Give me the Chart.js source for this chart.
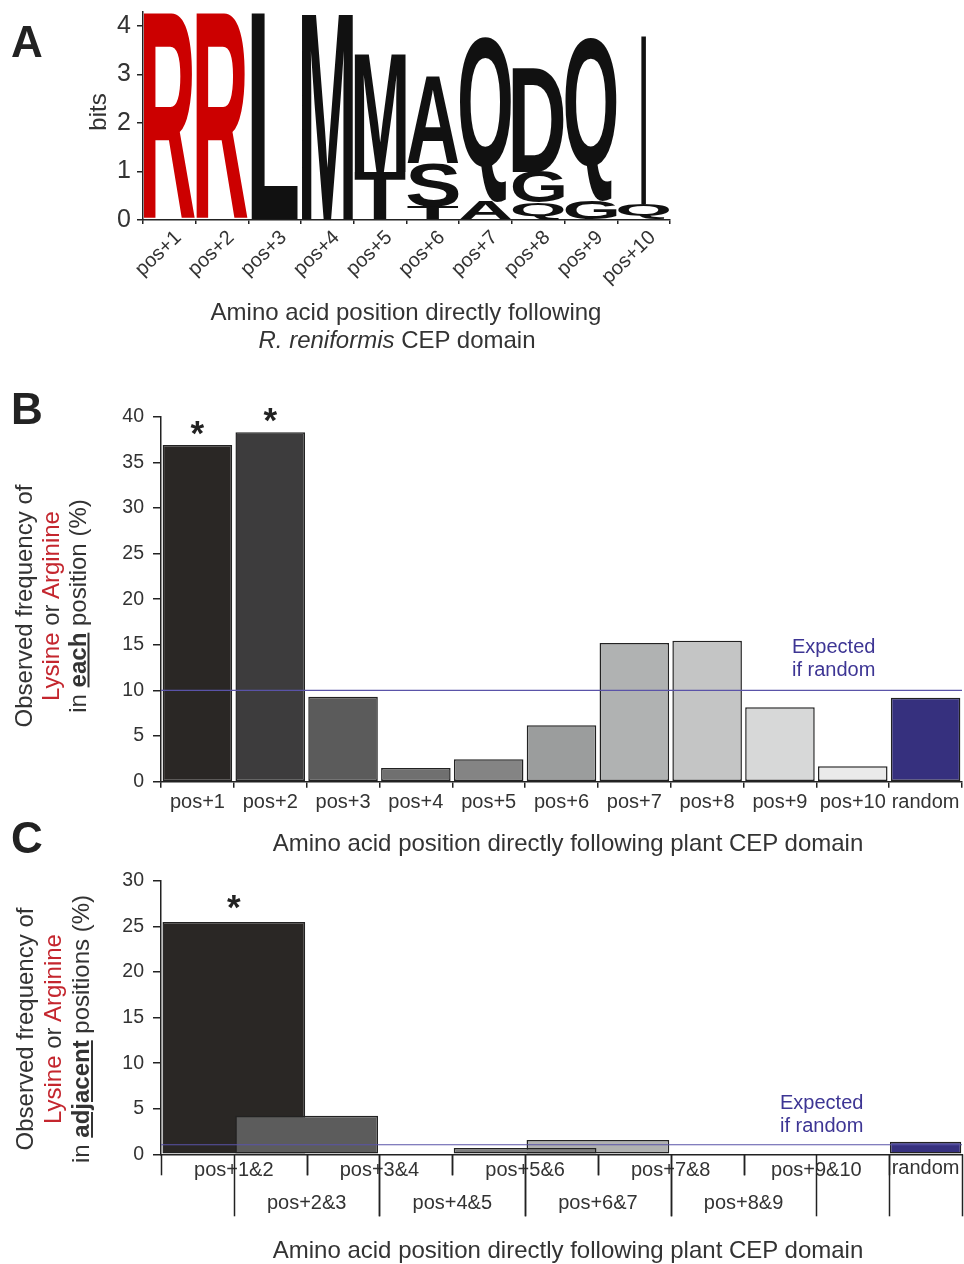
<!DOCTYPE html>
<html><head><meta charset="utf-8">
<script src="https://cdn.jsdelivr.net/npm/chart.js@4"></script>
<style>
body{margin:0;background:#fff;}
#wrap{position:relative;width:964px;height:1264px;overflow:hidden;font-family:"Liberation Sans",Arial,sans-serif;color:#333;background:#fff;}
canvas{position:absolute;left:0;}
.t{position:absolute;white-space:nowrap;z-index:2;}
.ctr{transform:translate(-50%,-50%);line-height:1;}
.panel{font-weight:bold;font-size:44px;color:#222;}
.red{color:#c4262e;}
.rot{transform:translate(-50%,-50%) rotate(-90deg);text-align:center;font-size:24px;line-height:27px;}
.exp{color:#3d3594;font-size:20px;line-height:23px;}
.ttl{font-size:24px;}
</style></head>
<body><div id="wrap">
<canvas id="ca" width="964" height="300" style="top:0"></canvas>
<canvas id="cb" width="964" height="440" style="top:380px"></canvas>
<canvas id="cc" width="964" height="424" style="top:840px"></canvas>

<div class="t ctr panel" style="left:27px;top:42px">A</div>
<div class="t ctr panel" style="left:27px;top:409px">B</div>
<div class="t ctr panel" style="left:27px;top:838px">C</div>

<div class="t ctr" style="left:98px;top:112px;font-size:24px;transform:translate(-50%,-50%) rotate(-90deg)">bits</div>
<div class="t ctr ttl" style="left:406px;top:312px">Amino acid position directly following</div>
<div class="t ctr ttl" style="left:397px;top:340px"><i>R. reniformis</i> CEP domain</div>

<div class="t rot" style="left:50px;top:606px">Observed frequency of<br><span class="red">Lysine</span> or <span class="red">Arginine</span><br>in <b><u>each</u></b> position (%)</div>
<div class="t exp" style="left:792px;top:635px">Expected<br>if random</div>
<div class="t ctr ttl" style="left:568px;top:843px">Amino acid position directly following plant CEP domain</div>

<div class="t rot" style="left:53px;top:1029px;line-height:28px">Observed frequency of<br><span class="red">Lysine</span> or <span class="red">Arginine</span><br>in <b><u>adjacent</u></b> positions (%)</div>
<div class="t exp" style="left:780px;top:1091px">Expected<br>if random</div>
<div class="t ctr ttl" style="left:568px;top:1250px">Amino acid position directly following plant CEP domain</div>
</div>
<script>
// ---------- data ----------
// Panel A: sequence logo (bits per letter, stacked bottom -> top)
const logoPositions = ['pos+1','pos+2','pos+3','pos+4','pos+5','pos+6','pos+7','pos+8','pos+9','pos+10'];
const logoLetters = [['R'],['R'],['L'],['M'],['T','M'],['T','S','A'],['A','Q'],['Q','G','D'],['G','Q'],['Q','I']];
const logoBits = [[4.27],[4.27],[4.27],[4.27],[1.0,2.44],[0.27,0.9,1.82],[0.38,3.41],[0.36,0.64,2.13],[0.4,3.39],[0.33,3.48]];
const logoYTicks = [0,1,2,3,4];
const logoMax = 4.3;

// Panel B: frequency in each position (%)
const bLabels = ['pos+1','pos+2','pos+3','pos+4','pos+5','pos+6','pos+7','pos+8','pos+9','pos+10','random'];
const bValues = [36.9,38.3,9.3,1.5,2.45,6.2,15.2,15.45,8.15,1.7,9.2];
const bSignificant = [true,true,false,false,false,false,false,false,false,false,false];
const bExpected = 10;
const bMax = 40;

// Panel C: frequency in adjacent positions (%)
const cLabels = ['pos+1&2','pos+2&3','pos+3&4','pos+4&5','pos+5&6','pos+6&7','pos+7&8','pos+8&9','pos+9&10'];
const cValues = [25.5,4.24,0,0,0.7,1.57,0,0,0];
const cSignificant = [true,false,false,false,false,false,false,false,false];
const cRandomLabel = 'random';
const cRandomValue = 1.38;
const cExpected = 1.05;
const cMax = 30;

// ---------- styles ----------
const FONT = '"Liberation Sans", Arial, sans-serif';
Chart.defaults.font.family = FONT;
Chart.defaults.color = '#333';
const AX = '#222';
const bColors = ['#2a2725','#3d3c3d','#5b5b5b','#707070','#848484','#9b9d9d','#b0b2b2','#c4c5c5','#d7d8d8','#eaeaea','#36307e'];
const cColors = ['#2a2725','#5c5c5c','#6a6a6a','#747474','#7c7c7c','#b0b1b1','#c4c5c5','#d7d8d8','#eaeaea'];
const cRandomColor = '#36307e';
const letterColor = {R:'#cc0000'};
const letterWidth = {I:0.09, L:0.88};

function fixW(w){return s=>{s.width=w;s.paddingTop=0;s.paddingBottom=0;s.paddingLeft=0;s.paddingRight=0;};}
function fixH(h){return s=>{s.height=h;s.paddingTop=0;s.paddingBottom=0;s.paddingLeft=0;s.paddingRight=0;};}
function drawStar(ctx,x,cy){
  ctx.save();
  ctx.font = 'bold 35px ' + FONT;
  ctx.fillStyle = '#222';
  ctx.textAlign = 'center';
  ctx.textBaseline = 'alphabetic';
  const m = ctx.measureText('*');
  ctx.fillText('*', x, cy + (m.actualBoundingBoxAscent - m.actualBoundingBoxDescent)/2);
  ctx.restore();
}
function expectedLine(chart, v){
  const ctx = chart.ctx, a = chart.chartArea, y = chart.scales.y.getPixelForValue(v);
  ctx.save(); ctx.strokeStyle = '#5a53a8'; ctx.lineWidth = 1.2;
  ctx.beginPath(); ctx.moveTo(a.left, y); ctx.lineTo(a.right, y); ctx.stroke(); ctx.restore();
}

// ---------- Panel A ----------
const nLayers = Math.max(...logoBits.map(b=>b.length));
const logoDatasets = [];
for (let k=0;k<nLayers;k++){
  logoDatasets.push({data: logoBits.map(b => b[k] ?? null), backgroundColor:'rgba(0,0,0,0)', borderWidth:0,
    barPercentage:1, categoryPercentage:1});
}
const logoPlugin = {id:'logo', afterDatasetsDraw(chart){
  const ctx = chart.ctx;
  chart.data.datasets.forEach((ds,d)=>{
    chart.getDatasetMeta(d).data.forEach((el,i)=>{
      const v = ds.data[i]; if (!v) return;
      const letter = logoLetters[i][d];
      const p = el.getProps(['x','y','base','width'], true);
      const top = Math.min(p.y,p.base), h = Math.abs(p.base-p.y);
      const w = p.width * (letterWidth[letter] ?? 0.97);
      ctx.save();
      ctx.font = 'bold 200px ' + FONT;
      ctx.textAlign='left'; ctx.textBaseline='alphabetic';
      const m = ctx.measureText(letter);
      const bw = m.actualBoundingBoxLeft + m.actualBoundingBoxRight;
      const bh = m.actualBoundingBoxAscent + m.actualBoundingBoxDescent;
      ctx.translate(p.x - w/2, top);
      ctx.scale(w/bw, h/bh);
      ctx.fillStyle = letterColor[letter] || '#111';
      ctx.fillText(letter, m.actualBoundingBoxLeft, m.actualBoundingBoxAscent);
      ctx.restore();
    });
  });
}};
new Chart(document.getElementById('ca'), {
  type:'bar',
  data:{labels:logoPositions, datasets:logoDatasets},
  options:{
    responsive:false, animation:false,
    layout:{padding:{top:11.5,right:294,bottom:0,left:0}},
    plugins:{legend:{display:false},tooltip:{enabled:false}},
    scales:{
      x:{stacked:true, offset:true,
        grid:{offset:true, drawOnChartArea:false, tickLength:4, color:AX, lineWidth:1.5},
        border:{color:AX,width:1.5},
        ticks:{autoSkip:false, minRotation:44, maxRotation:44, labelOffset:9, padding:2, font:{size:20}, color:'#333'},
        afterFit:fixH(80)},
      y:{stacked:true, min:0, max:logoMax,
        afterBuildTicks:s=>{s.ticks = logoYTicks.map(v=>({value:v}));},
        ticks:{font:{size:25}, padding:6, color:'#333'},
        grid:{drawOnChartArea:false, tickLength:6, color:AX, lineWidth:1.5},
        border:{color:AX,width:1.5},
        afterFit:fixW(143)}
    }
  },
  plugins:[logoPlugin]
});

// ---------- Panel B ----------
const bPlugin = {id:'bExtras', afterDatasetsDraw(chart){
  expectedLine(chart, bExpected);
  chart.getDatasetMeta(0).data.forEach((el,i)=>{ if (bSignificant[i]) drawStar(chart.ctx, el.x, el.y - 17); });
}};
new Chart(document.getElementById('cb'), {
  type:'bar',
  data:{labels:bLabels, datasets:[{data:bValues, backgroundColor:bColors, borderColor:AX, borderWidth:1.5,
    borderSkipped:false, barPercentage:0.955, categoryPercentage:1}]},
  options:{
    responsive:false, animation:false,
    layout:{padding:{top:36.7,right:2,bottom:0,left:0}},
    plugins:{legend:{display:false},tooltip:{enabled:false}},
    scales:{
      x:{offset:true,
        grid:{offset:true, drawOnChartArea:false, tickLength:6, color:AX, lineWidth:1.5},
        border:{color:AX,width:1.5},
        ticks:{autoSkip:false, maxRotation:0, minRotation:0, padding:3, font:{size:20}, color:'#333'},
        afterFit:fixH(38.3)},
      y:{min:0, max:bMax,
        ticks:{stepSize:5, font:{size:19.5}, padding:9, color:'#333'},
        grid:{drawOnChartArea:false, tickLength:8, color:AX, lineWidth:1.5},
        border:{color:AX,width:1.5},
        afterFit:fixW(161)}
    }
  },
  plugins:[bPlugin]
});

// ---------- Panel C ----------
// each pair "pos+j&j+1" spans positions j..j+1 -> on a position axis it is centred on boundary j
const nPositions = cLabels.length + 1;
const cDatasets = cLabels.map((lab,j)=>({
  label:lab, data:[{x:j+1, y:cValues[j]}], backgroundColor:cColors[j], borderColor:AX, borderWidth:1.5,
  borderSkipped:false, barPercentage:1.96, categoryPercentage:1, grouped:false, order:cValues[j]
}));
cDatasets.push({label:cRandomLabel, data:[{x:nPositions+0.5, y:cRandomValue}], backgroundColor:cRandomColor,
  borderColor:AX, borderWidth:1.5, borderSkipped:false, barPercentage:0.98, categoryPercentage:1, grouped:false, order:cRandomValue});
const cPlugin = {id:'cExtras',
  afterDatasetsDraw(chart){
    expectedLine(chart, cExpected);
    cLabels.forEach((lab,j)=>{
      if (!cSignificant[j]) return;
      const el = chart.getDatasetMeta(j).data[0];
      drawStar(chart.ctx, el.x, el.y - 20);
    });
  },
  afterDraw(chart){
    const ctx = chart.ctx, xs = chart.scales.x, b = chart.chartArea.bottom;
    const line = (v,y0,y1)=>{const x = Math.round(xs.getPixelForValue(v))+0.5; ctx.beginPath(); ctx.moveTo(x,b+y0); ctx.lineTo(x,b+y1); ctx.stroke();};
    ctx.save();
    ctx.strokeStyle = AX; ctx.lineWidth = 1.5;
    ctx.font = '20px ' + FONT; ctx.fillStyle = '#333'; ctx.textAlign='center'; ctx.textBaseline='middle';
    cLabels.forEach((lab,j)=>{
      const topRow = j % 2 === 0;
      if (topRow){ line(j,0,21); line(j+2,0,21); }
      else { line(j,0,62); line(j+2,0,62); }
      ctx.fillText(lab, xs.getPixelForValue(j+1), b + (topRow ? 16 : 49));
    });
    line(nPositions,0,62); line(nPositions+1,0,62);
    ctx.fillText(cRandomLabel, xs.getPixelForValue(nPositions+0.5), b+14);
    ctx.restore();
  }
};
new Chart(document.getElementById('cc'), {
  type:'bar',
  data:{datasets:cDatasets},
  options:{
    responsive:false, animation:false,
    layout:{padding:{top:41,right:2,bottom:0,left:0}},
    plugins:{legend:{display:false},tooltip:{enabled:false}},
    scales:{
      x:{type:'linear', min:0, max:nPositions+1, offset:false,
        ticks:{display:false, stepSize:1},
        grid:{display:false},
        border:{color:AX,width:1.5},
        afterFit:fixH(109.7)},
      y:{min:0, max:cMax,
        ticks:{stepSize:5, font:{size:19.5}, padding:9, color:'#333'},
        grid:{drawOnChartArea:false, tickLength:8, color:AX, lineWidth:1.5},
        border:{color:AX,width:1.5},
        afterFit:fixW(161)}
    }
  },
  plugins:[cPlugin]
});
</script>
</body></html>
